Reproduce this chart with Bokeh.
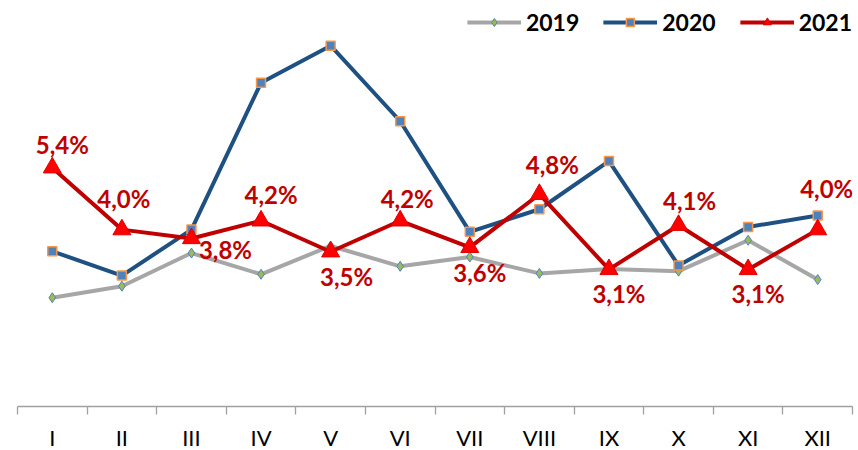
from bokeh.plotting import figure
from bokeh.models import Range1d, FixedTicker, Legend, LegendItem, ColumnDataSource
from bokeh.core.properties import value
from bokeh.embed import file_html
from bokeh.resources import INLINE

months = ["I", "II", "III", "IV", "V", "VI", "VII", "VIII", "IX", "X", "XI", "XII"]
y2019 = [2.46, 2.72, 3.47, 2.99, 3.63, 3.17, 3.38, 3.01, 3.11, 3.06, 3.76, 2.87]
y2020 = [3.51, 2.96, 4.00, 7.32, 8.16, 6.45, 3.95, 4.46, 5.55, 3.19, 4.06, 4.32]
y2021 = [5.4, 4.0, 3.8, 4.2, 3.5, 4.2, 3.6, 4.8, 3.1, 4.1, 3.1, 4.0]

# pixel nudges of the 2021 data labels relative to their points (screen px)
label_dx = [10, 2, 34, 10, 16, 7, 10, 13, 10, 11, 10, 9]
label_dy = [-23, -31, 11, -26, 25, -22, 25, -30, 24, -25, 24, -41]

x = list(range(1, len(months) + 1))

p = figure(frame_width=835, frame_height=398, output_backend="svg", toolbar_location=None,
           x_range=Range1d(0.5, len(months) + 0.5), y_range=Range1d(0, 9),
           y_axis_location=None, min_border_left=17, min_border_right=4,
           min_border_top=8, min_border_bottom=30)
p.outline_line_color = None
p.xgrid.visible = False
p.ygrid.visible = False
p.background_fill_color = "white"

ax = p.xaxis[0]
ax.ticker = FixedTicker(ticks=x, minor_ticks=[i + 0.5 for i in range(0, len(months) + 1)])
ax.major_label_overrides = {i: m for i, m in zip(x, months)}
ax.major_tick_out = 0
ax.major_tick_in = 0
ax.minor_tick_out = 8
ax.minor_tick_in = 0
ax.minor_tick_line_color = "#a0a0a0"
ax.axis_line_color = "#a0a0a0"
ax.axis_line_width = 1.3
ax.minor_tick_line_width = 1.3
ax.major_label_text_font = "Lato"
ax.major_label_text_font_size = "22px"
ax.major_label_text_color = "#000000"
ax.major_label_standoff = 9

src = ColumnDataSource(dict(x=x, y19=y2019, y20=y2020, y21=y2021))

l19 = p.line("x", "y19", source=src, line_color="#a6a6a6", line_width=4)
m19 = p.scatter("x", "y19", source=src, marker="diamond", size=10,
                fill_color="#9bbb59", line_color="#4f81bd", line_width=1)
l20 = p.line("x", "y20", source=src, line_color="#1f5082", line_width=4)
m20 = p.scatter("x", "y20", source=src, marker="square", size=9,
                fill_color="#4f81bd", line_color="#f79646", line_width=1.5)
l21 = p.line("x", "y21", source=src, line_color="#c00000", line_width=4)
m21 = p.scatter("x", "y21", source=src, marker="triangle", size=18,
                fill_color="#ff0000", line_color="#e00000", line_width=1)

lab_src = ColumnDataSource(dict(
    x=x, y=y2021,
    text=[f"{v:.1f}".replace(".", ",") + "%" for v in y2021],
    dx=label_dx, dy=label_dy,
))
p.text("x", "y", text="text", source=lab_src, x_offset="dx", y_offset="dy",
       text_font=value("Lato"), text_font_style="bold", text_font_size="24px",
       text_color="#c00000", text_align="center", text_baseline="middle")

legend = Legend(items=[
    LegendItem(label="2019", renderers=[l19, m19]),
    LegendItem(label="2020", renderers=[l20, m20]),
    LegendItem(label="2021", renderers=[l21, m21]),
], location="top_right", orientation="horizontal")
legend.label_text_font = "Lato"
legend.label_text_font_style = "bold"
legend.label_text_font_size = "23px"
legend.label_text_color = "#000000"
legend.glyph_width = 54
legend.glyph_height = 20
legend.label_standoff = 5
legend.spacing = 24
legend.padding = 3
legend.margin = 0
legend.border_line_color = None
legend.background_fill_alpha = 0
p.add_layout(legend)

open("out.html", "w").write(file_html(p, INLINE))
